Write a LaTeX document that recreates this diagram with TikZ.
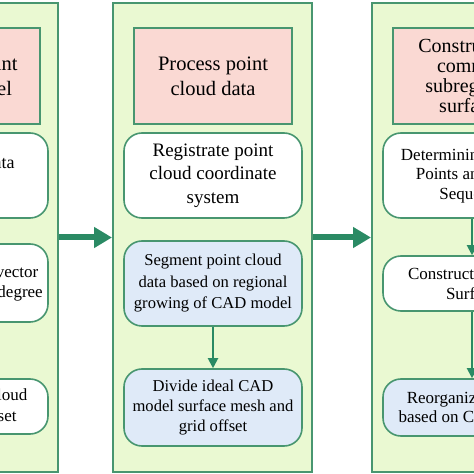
\documentclass[tikz,border=0pt]{standalone}
\usepackage{fontspec}
\setmainfont{Liberation Serif}
\usetikzlibrary{arrows.meta}
\definecolor{vertfond}{RGB}{234,249,210}
\definecolor{vertbord}{RGB}{72,150,112}
\definecolor{vertfleche}{RGB}{42,138,100}
\definecolor{rose}{RGB}{250,217,211}
\definecolor{bleu}{RGB}{223,234,248}

\begin{document}
\begin{tikzpicture}[x=1pt, y=1pt]
	\tikzset{panneau/.style={draw=vertbord, fill=vertfond, line width=2pt, minimum width=199pt, minimum height=469pt},
	titre/.style={draw=vertbord, fill=rose, line width=1.6pt, minimum width=158pt, minimum height=96pt, align=center, font=\fontsize{20.5}{25}\selectfont},
	etape/.style={draw=vertbord, fill=white, line width=1.6pt, rounded corners=18pt, minimum width=178pt, align=center, inner sep=2pt},
	fleche/.style={-{Triangle[length=18pt,width=20pt]}, line width=6pt, vertfleche},
	flechette/.style={-{Triangle[length=10pt,width=10pt]}, line width=2pt, vertfleche}};

	\useasboundingbox (0,0) rectangle (474,474);
	\clip (0,0) rectangle (474,474);

	% les trois panneaux
	\foreach \nom/\x in {a/-41.5, b/212.5, c/471.5}{
		\node[panneau] (\nom) at (\x, 236.5) {};
	}

	% panneau gauche
	\node[titre] (a-titre) at (-39, 398) {Acquire point\\cloud model};
	\node[etape, minimum height=85pt, font=\fontsize{18}{23}\selectfont] (a-1) at (-41, 298.5) {Scan point data\\of part};
	\node[etape, minimum height=78pt, font=\fontsize{17}{20}\selectfont] (a-2) at (-41, 191) {Estimate normal vector\\and the curvature degree};
	\node[etape, minimum height=55pt, font=\fontsize{17}{21}\selectfont] (a-3) at (-41, 67.5) {Denoise point cloud\\Simplify data set};

	% panneau central
	\node[titre] (b-titre) at (213, 398) {Process point\\cloud data};
	\node[etape, minimum height=85pt, font=\fontsize{19}{23.5}\selectfont] (b-1) at (213, 298.5) {Registrate point\\cloud coordinate\\system};
	\node[etape, fill=bleu, minimum height=85pt, font=\fontsize{16.6}{21.5}\selectfont] (b-2) at (213, 190.5) {Segment point cloud\\data based on regional\\growing of CAD model};
	\node[etape, fill=bleu, minimum height=77pt, font=\fontsize{16.6}{20}\selectfont] (b-3) at (213, 66.5) {Divide ideal CAD\\model surface mesh and\\grid offset};

	% panneau droit
	\node[titre, font=\fontsize{20}{20}\selectfont] (c-titre) at (472, 398) {Construct the\\common\\subregional\\surfaces};
	\node[etape, minimum height=85pt, font=\fontsize{17}{19.5}\selectfont] (c-1) at (472, 298.5) {Determining Control\\Points and Their\\Sequence};
	\node[etape, minimum height=55pt, font=\fontsize{17}{20}\selectfont] (c-2) at (472, 190.5) {Construct B-spline\\Surface};
	\node[etape, fill=bleu, minimum height=57pt, font=\fontsize{17}{19}\selectfont] (c-3) at (472, 66.5) {Reorganize surface\\based on CAD model};

	\draw[fleche] (a) -- (b);
	\draw[fleche] (b) -- (c);
	\draw[flechette] (b-2) -- (b-3);
	\draw[flechette] (c-1) -- (c-2);
	\draw[flechette] (c-2) -- (c-3);
\end{tikzpicture}
\end{document}
